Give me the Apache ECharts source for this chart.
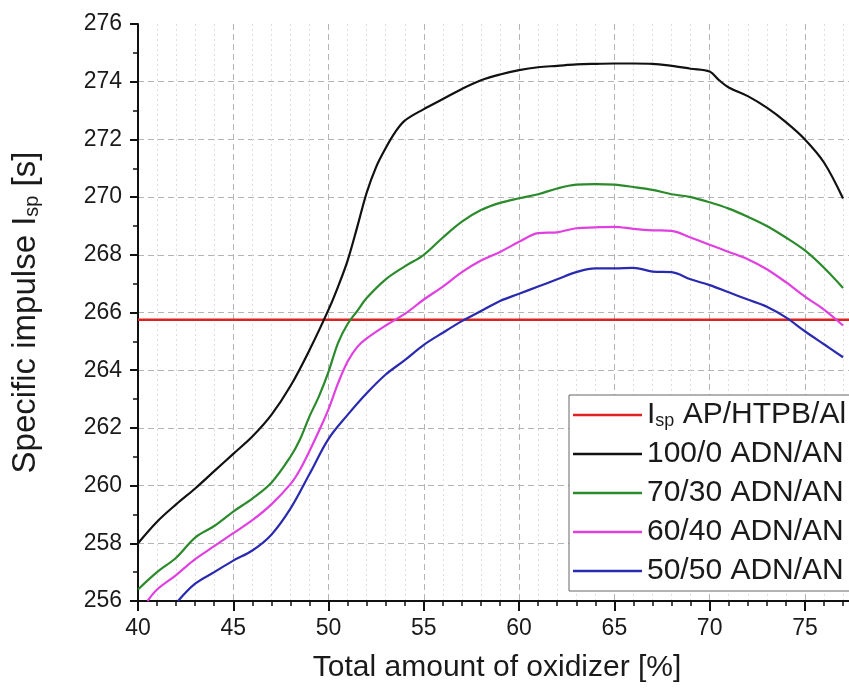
<!DOCTYPE html>
<html>
<head>
<meta charset="utf-8">
<script src="https://cdn.jsdelivr.net/npm/echarts@6/dist/echarts.min.js"></script>
<style>html,body{margin:0;padding:0;background:#fff;overflow:hidden;width:849px;height:691px}#c{width:916px;height:691px}</style>
</head>
<body>
<div id="c"></div>
<script>
// ---- data ----
var ispRefValue = 265.75; // I_sp AP/HTPB/Al reference level
var refX = [40, 80];

var blackX = [40,41,42,43,44,45,46,47,48,49,50,50.5,51,51.5,52,52.5,53,53.5,54,55,56,57,58,59,60,61,62,63,64,65,66,67,68,69,70,70.5,71,72,73,74,75,76,77];
var blackY = [258.0,258.75,259.35,259.9,260.5,261.1,261.7,262.45,263.45,264.7,266.1,266.9,267.8,268.95,270.15,271.05,271.7,272.25,272.65,273.05,273.4,273.75,274.05,274.25,274.4,274.5,274.55,274.6,274.62,274.63,274.63,274.62,274.55,274.45,274.35,274.05,273.8,273.5,273.1,272.6,272.0,271.2,269.95];

var greenX = [40,41,42,43,44,45,46,47,48,48.5,49,49.5,50,50.5,51,51.5,52,53,54,55,56,57,58,59,60,61,62,63,64,65,66,67,68,69,70,71,72,73,74,75,76,77];
var greenY = [256.4,257.0,257.5,258.2,258.6,259.1,259.55,260.1,261.0,261.6,262.4,263.1,263.95,264.95,265.6,266.05,266.5,267.15,267.6,268.0,268.6,269.15,269.55,269.8,269.96,270.1,270.3,270.43,270.45,270.43,270.35,270.25,270.1,270.0,269.82,269.6,269.32,269.0,268.6,268.15,267.55,266.85];

var magX = [40.5,41,42,43,44,45,46,47,48,48.5,49,49.5,50,50.5,51,51.5,52,53,54,55,56,57,58,59,60,61,62,63,64,65,66,67,68,69,70,71,72,73,74,75,76,77];
var magY = [256.0,256.4,256.9,257.45,257.9,258.35,258.8,259.35,260.05,260.55,261.2,261.9,262.65,263.55,264.3,264.8,265.1,265.55,265.95,266.45,266.9,267.4,267.8,268.1,268.45,268.75,268.78,268.92,268.95,268.97,268.9,268.85,268.83,268.6,268.35,268.1,267.85,267.5,267.05,266.55,266.1,265.55];

var blueX = [42.1,43,44,45,46,47,48,49,50,51,52,53,54,55,56,57,58,59,60,61,62,63,64,65,66,67,68,69,70,71,72,73,74,75,76,77];
var blueY = [256.0,256.6,257.0,257.4,257.75,258.3,259.2,260.4,261.62,262.45,263.2,263.85,264.35,264.88,265.3,265.7,266.05,266.4,266.65,266.9,267.15,267.4,267.53,267.53,267.55,267.42,267.4,267.15,266.95,266.7,266.45,266.2,265.83,265.35,264.9,264.45];

var seriesNames = ['Isp AP/HTPB/Al', '100/0 ADN/AN', '70/30 ADN/AN', '60/40 ADN/AN', '50/50 ADN/AN'];
var seriesColors = ['#dd2222', '#111111', '#2b8a2b', '#e040e0', '#2a2ab0'];

function pairs(xs, ys) { return xs.map(function (x, i) { return [x, ys[i]]; }); }
var refData = refX.map(function (x) { return [x, ispRefValue]; });

var FONT = '"Liberation Sans", Arial, Helvetica, sans-serif';

var chart = echarts.init(document.getElementById('c'), null, { renderer: 'canvas' });
chart.setOption({
  animation: false,
  backgroundColor: '#ffffff',
  textStyle: { fontFamily: FONT, color: '#1a1a1a' },
  grid: { left: 138, top: 24, right: 0, bottom: 90, containLabel: false },
  xAxis: {
    type: 'value', min: 40, max: 80, interval: 5,
    name: 'Total amount of oxidizer [%]', nameLocation: 'middle', nameGap: 52,
    nameTextStyle: { fontSize: 30, fontFamily: FONT, color: '#1a1a1a', padding: [0, 44, 0, 0] },
    axisLine: { show: true, onZero: false, lineStyle: { color: '#111', width: 2 } },
    axisTick: { show: true, inside: false, length: 10, lineStyle: { color: '#111', width: 2 } },
    minorTick: { show: true, splitNumber: 5, length: 5, lineStyle: { color: '#111', width: 1.5 } },
    axisLabel: { fontSize: 23, fontFamily: FONT, color: '#1a1a1a', margin: 16 },
    splitLine: { show: true, lineStyle: { color: '#b4b4b4', width: 1, type: [6, 4] } },
    minorSplitLine: { show: true, lineStyle: { color: '#dedede', width: 1, type: [2, 3] } }
  },
  yAxis: {
    type: 'value', min: 256, max: 276, interval: 2,
    name: 'Specific impulse I{s|sp} [s]', nameLocation: 'middle', nameGap: 96, nameRotate: 90,
    nameTextStyle: { fontSize: 33, fontFamily: FONT, color: '#1a1a1a',
      rich: { s: { fontSize: 20, fontFamily: FONT, color: '#1a1a1a', verticalAlign: 'bottom', lineHeight: 14 } } },
    axisLine: { show: true, onZero: false, lineStyle: { color: '#111', width: 2 } },
    axisTick: { show: true, inside: false, length: 8, lineStyle: { color: '#111', width: 2 } },
    minorTick: { show: true, splitNumber: 2, length: 5, lineStyle: { color: '#111', width: 1.5 } },
    axisLabel: { fontSize: 23, fontFamily: FONT, color: '#1a1a1a', margin: 16 },
    splitLine: { show: true, showMaxLine: false, lineStyle: { color: '#b4b4b4', width: 1, type: [6, 4] } }
  },
  legend: {
    orient: 'vertical', left: 569, top: 395,
    padding: [5, 60, 5, 4], itemGap: 9, itemWidth: 69, itemHeight: 2.5,
    icon: 'rect',
    backgroundColor: '#ffffff', borderColor: '#666', borderWidth: 1, borderRadius: 0,
    data: seriesNames,
    formatter: function (name) {
      if (name === seriesNames[0]) return 'I{s|sp} AP/HTPB/Al';
      return name;
    },
    textStyle: { fontSize: 30, lineHeight: 30, fontFamily: FONT, color: '#1a1a1a',
      rich: { s: { fontSize: 18, fontFamily: FONT, color: '#1a1a1a', verticalAlign: 'bottom', lineHeight: 12 } } }
  },
  series: [
    { name: seriesNames[0], type: 'line', data: refData, symbol: 'none', z: 3,
      lineStyle: { color: seriesColors[0], width: 2.5 }, itemStyle: { color: seriesColors[0] } },
    { name: seriesNames[1], type: 'line', data: pairs(blackX, blackY), symbol: 'none', smooth: 0.35,
      lineStyle: { color: seriesColors[1], width: 2.2 }, itemStyle: { color: seriesColors[1] } },
    { name: seriesNames[2], type: 'line', data: pairs(greenX, greenY), symbol: 'none', smooth: 0.35,
      lineStyle: { color: seriesColors[2], width: 2.2 }, itemStyle: { color: seriesColors[2] } },
    { name: seriesNames[3], type: 'line', data: pairs(magX, magY), symbol: 'none', smooth: 0.35,
      lineStyle: { color: seriesColors[3], width: 2.2 }, itemStyle: { color: seriesColors[3] } },
    { name: seriesNames[4], type: 'line', data: pairs(blueX, blueY), symbol: 'none', smooth: 0.35,
      lineStyle: { color: seriesColors[4], width: 2.2 }, itemStyle: { color: seriesColors[4] } }
  ]
});
</script>
</body>
</html>
